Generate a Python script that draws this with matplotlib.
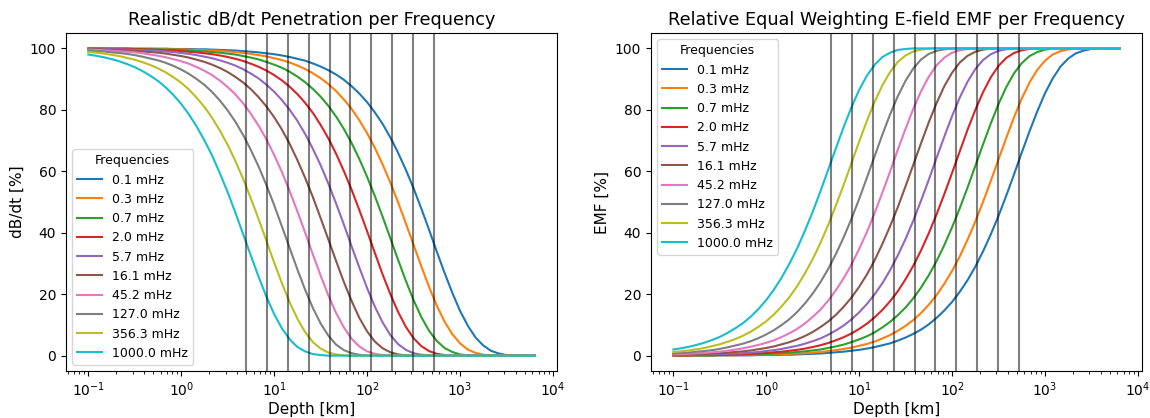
import matplotlib
matplotlib.use('Agg')
import matplotlib.pyplot as plt

# frequencies (mHz) and the depth marker lines (km)
freqs_mhz = [0.1, 0.3, 0.7, 2.0, 5.7, 16.1, 45.2, 127.0, 356.3, 1000.0]
skin_depths = [5.0, 8.38, 14.0, 23.5, 39.4, 66.0, 110.5, 185, 310, 520]

depth = [0.1, 0.121, 0.147, 0.178, 0.215, 0.261, 0.316, 0.383, 0.464, 0.562, 0.681, 0.825,
         1, 1.21, 1.47, 1.78, 2.15, 2.61, 3.16, 3.83, 4.64, 5.62, 6.81, 8.25,
         10, 12.1, 14.7, 17.8, 21.5, 26.1, 31.6, 38.3, 46.4, 56.2, 68.1, 82.5,
         100, 121, 147, 178, 215, 261, 316, 383, 464, 562, 681, 825,
         1000, 1210, 1470, 1780, 2150, 2610, 3160, 3830, 4640, 5620, 6371]

# dB/dt penetration [%], one row per frequency (same order as freqs_mhz)
dbdt = [
    [100.0, 100.0, 100.0, 100.0, 100.0, 100.0, 99.9, 99.9, 99.9, 99.9, 99.9, 99.8,
     99.8, 99.8, 99.7, 99.7, 99.6, 99.5, 99.4, 99.3, 99.1, 98.9, 98.7, 98.4,
     98.1, 97.7, 97.2, 96.6, 96.0, 95.1, 94.1, 92.9, 91.5, 89.8, 87.7, 85.3,
     82.5, 79.2, 75.4, 71.0, 66.1, 60.5, 54.5, 47.9, 41.0, 33.9, 27.0, 20.5,
     14.6, 9.8, 5.9, 3.3, 1.6, 0.7, 0.2, 0.1, 0.0, 0.0, 0.0],
    [100.0, 100.0, 100.0, 99.9, 99.9, 99.9, 99.9, 99.9, 99.9, 99.8, 99.8, 99.7,
     99.7, 99.6, 99.5, 99.4, 99.3, 99.2, 99.0, 98.8, 98.5, 98.2, 97.8, 97.4,
     96.8, 96.2, 95.4, 94.4, 93.3, 91.9, 90.3, 88.4, 86.1, 83.4, 80.3, 76.6,
     72.4, 67.7, 62.2, 56.3, 50.0, 43.1, 36.1, 29.1, 22.4, 16.3, 11.1, 7.0,
     4.0, 2.0, 0.9, 0.3, 0.1, 0.0, 0.0, 0.0, 0.0, 0.0, 0.0],
    [99.9, 99.9, 99.9, 99.9, 99.9, 99.9, 99.8, 99.8, 99.7, 99.7, 99.6, 99.6,
     99.5, 99.3, 99.2, 99.0, 98.8, 98.6, 98.3, 98.0, 97.5, 97.0, 96.4, 95.6,
     94.7, 93.7, 92.4, 90.8, 89.0, 86.8, 84.3, 81.3, 77.8, 73.8, 69.2, 64.0,
     58.2, 52.0, 45.2, 38.2, 31.3, 24.4, 18.1, 12.6, 8.1, 4.8, 2.5, 1.2,
     0.4, 0.1, 0.0, 0.0, 0.0, 0.0, 0.0, 0.0, 0.0, 0.0, 0.0],
    [99.9, 99.9, 99.9, 99.8, 99.8, 99.8, 99.7, 99.7, 99.6, 99.5, 99.4, 99.3,
     99.1, 98.9, 98.7, 98.4, 98.1, 97.7, 97.2, 96.6, 95.9, 95.0, 94.0, 92.8,
     91.3, 89.6, 87.5, 85.1, 82.3, 79.0, 75.1, 70.7, 65.7, 60.1, 54.0, 47.4,
     40.5, 33.5, 26.4, 20.0, 14.3, 9.4, 5.7, 3.1, 1.5, 0.6, 0.2, 0.1,
     0.0, 0.0, 0.0, 0.0, 0.0, 0.0, 0.0, 0.0, 0.0, 0.0, 0.0],
    [99.8, 99.8, 99.8, 99.7, 99.7, 99.6, 99.5, 99.4, 99.3, 99.2, 99.0, 98.8,
     98.5, 98.2, 97.8, 97.3, 96.8, 96.1, 95.3, 94.4, 93.2, 91.8, 90.2, 88.2,
     85.9, 83.2, 80.0, 76.4, 72.2, 67.3, 62.0, 56.0, 49.5, 42.7, 35.6, 28.7,
     22.0, 16.0, 10.8, 6.7, 3.8, 1.9, 0.8, 0.3, 0.1, 0.0, 0.0, 0.0,
     0.0, 0.0, 0.0, 0.0, 0.0, 0.0, 0.0, 0.0, 0.0, 0.0, 0.0],
    [99.7, 99.7, 99.6, 99.5, 99.5, 99.3, 99.2, 99.0, 98.8, 98.6, 98.3, 97.9,
     97.5, 97.0, 96.3, 95.6, 94.7, 93.6, 92.3, 90.7, 88.9, 86.7, 84.1, 81.1,
     77.6, 73.6, 68.9, 63.6, 57.9, 51.6, 44.8, 37.8, 30.8, 24.0, 17.8, 12.3,
     7.9, 4.6, 2.4, 1.1, 0.4, 0.1, 0.0, 0.0, 0.0, 0.0, 0.0, 0.0,
     0.0, 0.0, 0.0, 0.0, 0.0, 0.0, 0.0, 0.0, 0.0, 0.0, 0.0],
    [99.6, 99.5, 99.4, 99.2, 99.1, 98.9, 98.7, 98.4, 98.0, 97.6, 97.1, 96.5,
     95.8, 95.0, 93.9, 92.7, 91.3, 89.5, 87.4, 85.0, 82.1, 78.7, 74.8, 70.4,
     65.3, 59.8, 53.5, 46.9, 40.1, 32.9, 26.1, 19.6, 13.9, 9.2, 5.5, 3.0,
     1.4, 0.6, 0.2, 0.1, 0.0, 0.0, 0.0, 0.0, 0.0, 0.0, 0.0, 0.0,
     0.0, 0.0, 0.0, 0.0, 0.0, 0.0, 0.0, 0.0, 0.0, 0.0, 0.0],
    [99.3, 99.1, 99.0, 98.7, 98.5, 98.2, 97.8, 97.3, 96.7, 96.1, 95.3, 94.3,
     93.1, 91.7, 90.0, 88.1, 85.8, 83.0, 79.8, 76.1, 71.8, 66.9, 61.5, 55.5,
     49.0, 42.1, 35.0, 28.0, 21.5, 15.5, 10.5, 6.5, 3.6, 1.8, 0.8, 0.3,
     0.1, 0.0, 0.0, 0.0, 0.0, 0.0, 0.0, 0.0, 0.0, 0.0, 0.0, 0.0,
     0.0, 0.0, 0.0, 0.0, 0.0, 0.0, 0.0, 0.0, 0.0, 0.0, 0.0],
    [98.8, 98.6, 98.3, 97.9, 97.5, 96.9, 96.3, 95.5, 94.6, 93.5, 92.2, 90.6,
     88.8, 86.6, 83.9, 80.9, 77.4, 73.2, 68.6, 63.3, 57.5, 51.1, 44.4, 37.4,
     30.3, 23.6, 17.3, 12.0, 7.7, 4.4, 2.3, 1.0, 0.4, 0.1, 0.0, 0.0,
     0.0, 0.0, 0.0, 0.0, 0.0, 0.0, 0.0, 0.0, 0.0, 0.0, 0.0, 0.0,
     0.0, 0.0, 0.0, 0.0, 0.0, 0.0, 0.0, 0.0, 0.0, 0.0, 0.0],
    [98.0, 97.6, 97.1, 96.5, 95.8, 94.9, 93.9, 92.6, 91.1, 89.4, 87.3, 84.8,
     81.9, 78.5, 74.5, 70.0, 65.1, 59.3, 53.2, 46.5, 39.5, 32.5, 25.6, 19.2,
     13.5, 8.9, 5.3, 2.8, 1.4, 0.5, 0.2, 0.0, 0.0, 0.0, 0.0, 0.0,
     0.0, 0.0, 0.0, 0.0, 0.0, 0.0, 0.0, 0.0, 0.0, 0.0, 0.0, 0.0,
     0.0, 0.0, 0.0, 0.0, 0.0, 0.0, 0.0, 0.0, 0.0, 0.0, 0.0],
]

# relative equal weighting E-field EMF [%], one row per frequency
emf = [
    [0.0, 0.0, 0.0, 0.0, 0.0, 0.0, 0.1, 0.1, 0.1, 0.1, 0.1, 0.2,
     0.2, 0.2, 0.3, 0.3, 0.4, 0.5, 0.6, 0.7, 0.9, 1.1, 1.3, 1.6,
     1.9, 2.3, 2.8, 3.4, 4.0, 4.9, 5.9, 7.1, 8.5, 10.2, 12.3, 14.7,
     17.5, 20.8, 24.6, 29.0, 33.9, 39.5, 45.5, 52.1, 59.0, 66.1, 73.0, 79.5,
     85.4, 90.2, 94.1, 96.7, 98.4, 99.3, 99.8, 99.9, 100.0, 100.0, 100.0],
    [0.0, 0.0, 0.0, 0.1, 0.1, 0.1, 0.1, 0.1, 0.1, 0.2, 0.2, 0.3,
     0.3, 0.4, 0.5, 0.6, 0.7, 0.8, 1.0, 1.2, 1.5, 1.8, 2.2, 2.6,
     3.2, 3.8, 4.6, 5.6, 6.7, 8.1, 9.7, 11.6, 13.9, 16.6, 19.7, 23.4,
     27.6, 32.3, 37.8, 43.7, 50.0, 56.9, 63.9, 70.9, 77.6, 83.7, 88.9, 93.0,
     96.0, 98.0, 99.1, 99.7, 99.9, 100.0, 100.0, 100.0, 100.0, 100.0, 100.0],
    [0.1, 0.1, 0.1, 0.1, 0.1, 0.1, 0.2, 0.2, 0.3, 0.3, 0.4, 0.4,
     0.5, 0.7, 0.8, 1.0, 1.2, 1.4, 1.7, 2.0, 2.5, 3.0, 3.6, 4.4,
     5.3, 6.3, 7.6, 9.2, 11.0, 13.2, 15.7, 18.7, 22.2, 26.2, 30.8, 36.0,
     41.8, 48.0, 54.8, 61.8, 68.7, 75.6, 81.9, 87.4, 91.9, 95.2, 97.5, 98.8,
     99.6, 99.9, 100.0, 100.0, 100.0, 100.0, 100.0, 100.0, 100.0, 100.0, 100.0],
    [0.1, 0.1, 0.1, 0.2, 0.2, 0.2, 0.3, 0.3, 0.4, 0.5, 0.6, 0.7,
     0.9, 1.1, 1.3, 1.6, 1.9, 2.3, 2.8, 3.4, 4.1, 5.0, 6.0, 7.2,
     8.7, 10.4, 12.5, 14.9, 17.7, 21.0, 24.9, 29.3, 34.3, 39.9, 46.0, 52.6,
     59.5, 66.5, 73.6, 80.0, 85.7, 90.6, 94.3, 96.9, 98.5, 99.4, 99.8, 99.9,
     100.0, 100.0, 100.0, 100.0, 100.0, 100.0, 100.0, 100.0, 100.0, 100.0, 100.0],
    [0.2, 0.2, 0.2, 0.3, 0.3, 0.4, 0.5, 0.6, 0.7, 0.8, 1.0, 1.2,
     1.5, 1.8, 2.2, 2.7, 3.2, 3.9, 4.7, 5.6, 6.8, 8.2, 9.8, 11.8,
     14.1, 16.8, 20.0, 23.6, 27.8, 32.7, 38.0, 44.0, 50.5, 57.3, 64.4, 71.3,
     78.0, 84.0, 89.2, 93.3, 96.2, 98.1, 99.2, 99.7, 99.9, 100.0, 100.0, 100.0,
     100.0, 100.0, 100.0, 100.0, 100.0, 100.0, 100.0, 100.0, 100.0, 100.0, 100.0],
    [0.3, 0.3, 0.4, 0.5, 0.5, 0.7, 0.8, 1.0, 1.2, 1.4, 1.7, 2.1,
     2.5, 3.0, 3.7, 4.4, 5.3, 6.4, 7.7, 9.3, 11.1, 13.3, 15.9, 18.9,
     22.4, 26.4, 31.1, 36.4, 42.1, 48.4, 55.2, 62.2, 69.2, 76.0, 82.2, 87.7,
     92.1, 95.4, 97.6, 98.9, 99.6, 99.9, 100.0, 100.0, 100.0, 100.0, 100.0, 100.0,
     100.0, 100.0, 100.0, 100.0, 100.0, 100.0, 100.0, 100.0, 100.0, 100.0, 100.0],
    [0.4, 0.5, 0.6, 0.8, 0.9, 1.1, 1.3, 1.6, 2.0, 2.4, 2.9, 3.5,
     4.2, 5.0, 6.1, 7.3, 8.7, 10.5, 12.6, 15.0, 17.9, 21.3, 25.2, 29.6,
     34.7, 40.2, 46.5, 53.1, 59.9, 67.1, 73.9, 80.4, 86.1, 90.8, 94.5, 97.0,
     98.6, 99.4, 99.8, 99.9, 100.0, 100.0, 100.0, 100.0, 100.0, 100.0, 100.0, 100.0,
     100.0, 100.0, 100.0, 100.0, 100.0, 100.0, 100.0, 100.0, 100.0, 100.0, 100.0],
    [0.7, 0.9, 1.0, 1.3, 1.5, 1.8, 2.2, 2.7, 3.3, 3.9, 4.7, 5.7,
     6.9, 8.3, 10.0, 11.9, 14.2, 17.0, 20.2, 23.9, 28.2, 33.1, 38.5, 44.5,
     51.0, 57.9, 65.0, 72.0, 78.5, 84.5, 89.5, 93.5, 96.4, 98.2, 99.2, 99.7,
     99.9, 100.0, 100.0, 100.0, 100.0, 100.0, 100.0, 100.0, 100.0, 100.0, 100.0, 100.0,
     100.0, 100.0, 100.0, 100.0, 100.0, 100.0, 100.0, 100.0, 100.0, 100.0, 100.0],
    [1.2, 1.4, 1.7, 2.1, 2.5, 3.1, 3.7, 4.5, 5.4, 6.5, 7.8, 9.4,
     11.2, 13.4, 16.1, 19.1, 22.6, 26.8, 31.4, 36.7, 42.5, 48.9, 55.6, 62.6,
     69.7, 76.4, 82.7, 88.0, 92.3, 95.6, 97.7, 99.0, 99.6, 99.9, 100.0, 100.0,
     100.0, 100.0, 100.0, 100.0, 100.0, 100.0, 100.0, 100.0, 100.0, 100.0, 100.0, 100.0,
     100.0, 100.0, 100.0, 100.0, 100.0, 100.0, 100.0, 100.0, 100.0, 100.0, 100.0],
    [2.0, 2.4, 2.9, 3.5, 4.2, 5.1, 6.1, 7.4, 8.9, 10.6, 12.7, 15.2,
     18.1, 21.5, 25.5, 30.0, 34.9, 40.7, 46.8, 53.5, 60.5, 67.5, 74.4, 80.8,
     86.5, 91.1, 94.7, 97.2, 98.6, 99.5, 99.8, 100.0, 100.0, 100.0, 100.0, 100.0,
     100.0, 100.0, 100.0, 100.0, 100.0, 100.0, 100.0, 100.0, 100.0, 100.0, 100.0, 100.0,
     100.0, 100.0, 100.0, 100.0, 100.0, 100.0, 100.0, 100.0, 100.0, 100.0, 100.0],
]

fig = plt.figure(figsize=(11.5, 4.18), dpi=100)
ax1 = fig.add_axes([0.0574, 0.1124, 0.4270, 0.8086])
ax2 = fig.add_axes([0.5661, 0.1124, 0.4270, 0.8086])

labels = ['%.1f mHz' % f for f in freqs_mhz]

# left: dB/dt
for vals, lab in zip(dbdt, labels):
    ax1.plot(depth, vals, label=lab)
for d in skin_depths:
    ax1.axvline(d, color='k', alpha=0.5)
ax1.set_xscale('log')
ax1.set_title('Realistic dB/dt Penetration per Frequency', fontsize=12.7)
ax1.set_xlabel('Depth [km]', fontsize=11, labelpad=2)
ax1.set_ylabel('dB/dt [%]', fontsize=11)
ax1.legend(title='Frequencies', loc='lower left', fontsize=9, title_fontsize=9)

# right: EMF
for vals, lab in zip(emf, labels):
    ax2.plot(depth, vals, label=lab)
for d in skin_depths:
    ax2.axvline(d, color='k', alpha=0.5)
ax2.set_xscale('log')
ax2.set_title('Relative Equal Weighting E-field EMF per Frequency', fontsize=12.7)
ax2.set_xlabel('Depth [km]', fontsize=11, labelpad=2)
ax2.set_ylabel('EMF [%]', fontsize=11)
ax2.legend(title='Frequencies', loc='upper left', fontsize=9, title_fontsize=9)

fig.savefig('out.png', dpi=100)
